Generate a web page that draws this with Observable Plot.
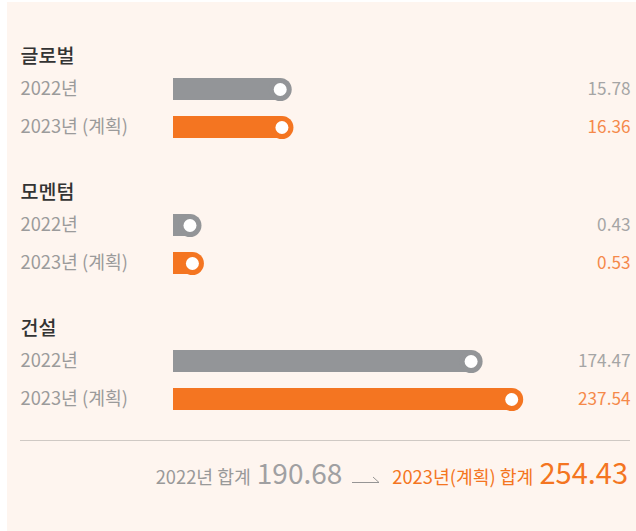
<!DOCTYPE html>
<html><head><meta charset="utf-8">
<script src="https://cdn.jsdelivr.net/npm/d3@7"></script>
<script src="https://cdn.jsdelivr.net/npm/@observablehq/plot@0.6"></script>
<style>
body{margin:0;background:#fff;font-family:"Noto Sans CJK KR","Noto Sans",sans-serif;}
#panel{position:absolute;left:7px;top:2px;width:629px;height:529px;background:#fef5ef;}
#chart{position:absolute;left:0;top:0;}
#sep{position:absolute;left:20px;top:440px;width:610px;border-top:1px solid #cfc9c4;}
#totals{position:absolute;right:8px;top:450px;white-space:nowrap;display:flex;align-items:baseline;}
#totals .l{font-size:18.3px;}
#totals .n{font-size:28px;margin-left:6px;}
</style></head><body>
<div id="panel"></div><div id="chart"></div><div id="sep"></div><div id="totals"></div>
<script>
// ---- data ----
const groups = ["글로벌", "모멘텀", "건설"];
const years = ["2022년", "2023년 (계획)"];
const values2022 = [15.78, 0.43, 174.47];
const values2023 = [16.36, 0.53, 237.54];
const totalLabels = ["2022년 합계", "2023년(계획) 합계"];

const rows = groups.flatMap((g, i) => [
  {group: g, year: years[0], value: values2022[i]},
  {group: g, year: years[1], value: values2023[i]}
]);

const barColor = {[years[0]]: "#939598", [years[1]]: "#f47521"};
const valueColor = {[years[0]]: "#a5a5a5", [years[1]]: "#f5894a"};
const R = 11.5;
const ML = 173, MR = 113.3;

const marks = [];
for (const yr of years) {
  const f = {filter: d => d.year === yr, fy: "group", y: "year"};
  marks.push(
    Plot.barX(rows, {...f, x1: () => 0, x2: "value", fill: barColor[yr], insetRight: R}),
    Plot.dot(rows, {...f, x: "value", dx: -R, r: R, fill: barColor[yr], stroke: null}),
    Plot.dot(rows, {...f, x: "value", dx: -R, r: 6.5, fill: "#ffffff", stroke: null}),
    Plot.text(rows, {...f, text: "year", frameAnchor: "left", dx: 20 - ML, textAnchor: "start",
      fill: "#9b9b9b", fontSize: 18.3}),
    Plot.text(rows, {...f, text: d => d.value.toFixed(2), frameAnchor: "right", dx: MR - 6,
      textAnchor: "end", fill: valueColor[yr], fontSize: 17.2})
  );
}
marks.push(
  Plot.text(groups, {fy: d => d, text: d => d, frameAnchor: "top-left", dx: 20 - ML, dy: 13,
    lineAnchor: "middle", textAnchor: "start", fill: "#333333", fontSize: 19.5, fontWeight: 500})
);

const chart = Plot.plot({
  width: 636, height: 430,
  marginLeft: ML, marginRight: MR, marginTop: 42, marginBottom: 9.5,
  style: {background: "transparent", fontFamily: '"Noto Sans CJK KR","Noto Sans",sans-serif', overflow: "visible"},
  x: {type: "pow", exponent: 0.4, domain: [0, d3.max(values2023)], axis: null},
  y: {domain: years, paddingInner: 0.41, paddingOuter: 0.205, insetTop: 26.5, axis: null},
  fy: {domain: groups, paddingInner: 0.2372, paddingOuter: 0, axis: null},
  marks
});
document.getElementById("chart").append(chart);

// ---- totals ----
const t22 = d3.sum(values2022), t23 = d3.sum(values2023);
document.getElementById("totals").innerHTML =
  `<span class="l" style="color:#999999">${totalLabels[0]}</span>` +
  `<span class="n" style="color:#a0a0a2">${t22.toFixed(2)}</span>` +
  `<svg width="28" height="10" style="margin:0 12px 0 10px" viewBox="0 0 28 10"><path d="M0 8.5H27L21 3" fill="none" stroke="#8a8a8a" stroke-width="0.9"/></svg>` +
  `<span class="l" style="color:#f47521">${totalLabels[1]}</span>` +
  `<span class="n" style="color:#f47521;font-size:29px;font-weight:400">${t23.toFixed(2)}</span>`;
</script>
</body></html>
